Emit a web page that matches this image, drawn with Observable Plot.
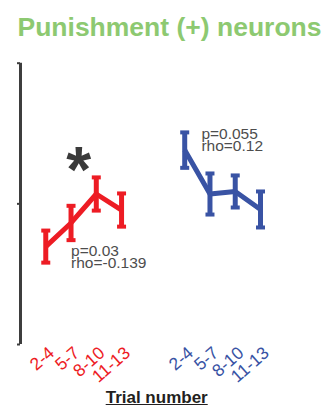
<!DOCTYPE html>
<html>
<head>
<meta charset="utf-8">
<script src="https://cdn.jsdelivr.net/npm/d3@7"></script>
<script src="https://cdn.jsdelivr.net/npm/@observablehq/plot@0.6"></script>
<style>
  html, body { margin: 0; padding: 0; background: #fff; }
  body { width: 327px; height: 409px; overflow: hidden; font-family: "Liberation Sans", Arial, sans-serif; }
  #title { box-sizing: border-box; height: 44px; padding-top: 13.5px; padding-left: 12px; text-align: center;
           font-size: 26.5px; font-weight: bold; line-height: 1; color: #8dc971; white-space: nowrap; }
  #xlabel { box-sizing: border-box; padding-top: 0px; padding-right: 13.6px; text-align: center;
            font-size: 17px; font-weight: bold; line-height: 1; color: #231f20; text-decoration: underline; }
  #chart svg { display: block; }
</style>
</head>
<body>
<div id="title">Punishment (+) neurons</div>
<div id="chart"></div>
<div id="xlabel">Trial number</div>
<script>
// ---- data ----
const trials = ["2-4", "5-7", "8-10", "11-13"];
const seriesNames = ["red series", "blue series"];
const seriesColors = ["#ed1c24", "#3953a4"];
const redMean = [0.348, 0.432, 0.535, 0.478];
const redSem  = [0.057, 0.061, 0.059, 0.059];
const blueMean = [0.691, 0.535, 0.544, 0.480];
const blueSem  = [0.063, 0.073, 0.057, 0.064];
const statLabels = ["p=0.03\nrho=-0.139", "p=0.055\nrho=0.12"];
const statX = [1, 6.16];
const statY = [0.345, 0.762];
const starLabel = ["*"];
const starX = [1.3];
const starY = [0.705];
const yTicks = [0, 0.5, 1];
const groupGap = 5.5;
const xDomain = [-1, 8.5];

// ---- build table ----
const means = [redMean, blueMean];
const sems = [redSem, blueSem];
const data = [];
seriesNames.forEach((s, g) => {
  trials.forEach((t, i) => {
    data.push({series: s, trial: t, x: i + g * groupGap, mean: means[g][i],
               lo: means[g][i] - sems[g][i], hi: means[g][i] + sems[g][i]});
  });
});
const stats = statLabels.map((t, k) => ({text: t, x: statX[k], y: statY[k]}));
const stars = starLabel.map((t, k) => ({text: t, x: starX[k], y: starY[k]}));

const capSymbol = {
  draw(context) {
    const w = 4.5, h = 2;
    context.moveTo(-w, -h); context.lineTo(w, -h); context.lineTo(w, h); context.lineTo(-w, h); context.closePath();
  }
};

const tickAxes = seriesNames.map((s, g) => {
  const pos = trials.map((t, i) => i + g * groupGap);
  return Plot.axisX(pos, {
    tickFormat: d => trials[Math.round(d - g * groupGap)],
    tickRotate: -41, tickSize: 0, tickPadding: 6, dx: 6, label: null,
    fill: seriesColors[g], fontSize: 17.5
  });
});

const chart = Plot.plot({
  width: 327,
  height: 345,
  marginTop: 18.7,
  marginBottom: 45,
  marginLeft: 20,
  marginRight: 67,
  style: {fontFamily: "'Liberation Sans', Arial, sans-serif", fontSize: "15px", background: "white"},
  x: {domain: xDomain, label: null},
  y: {domain: [0, 1], label: null},
  color: {domain: seriesNames, range: seriesColors},
  marks: [
    Plot.ruleX([xDomain[0]], {y1: yTicks[0], y2: yTicks[yTicks.length - 1], stroke: "#3d3d3d", strokeWidth: 3}),
    Plot.axisY(yTicks, {tickFormat: () => "", tickSize: 3, stroke: "#3d3d3d", strokeWidth: 2, label: null}),
    ...tickAxes,
    Plot.ruleX(data, {x: "x", y1: "lo", y2: "hi", stroke: "series", strokeWidth: 5}),
    Plot.dot(data, {x: "x", y: "lo", symbol: capSymbol, fill: "series", stroke: null, r: 4}),
    Plot.dot(data, {x: "x", y: "hi", symbol: capSymbol, fill: "series", stroke: null, r: 4}),
    Plot.line(data, {x: "x", y: "mean", z: "series", stroke: "series", strokeWidth: 5,
                     strokeLinejoin: "miter", strokeLinecap: "butt"}),
    Plot.text(stats, {x: "x", y: "y", text: "text", textAnchor: "start", lineAnchor: "top",
                      fontSize: 15.5, lineHeight: 0.78, fill: "#4d4d4d"}),
    Plot.text(stars, {x: "x", y: "y", text: "text", textAnchor: "middle", lineAnchor: "top",
                      fontSize: 64, fontWeight: "bold", fill: "#3a3a3a"})
  ]
});
document.getElementById("chart").appendChild(chart);
</script>
</body>
</html>
